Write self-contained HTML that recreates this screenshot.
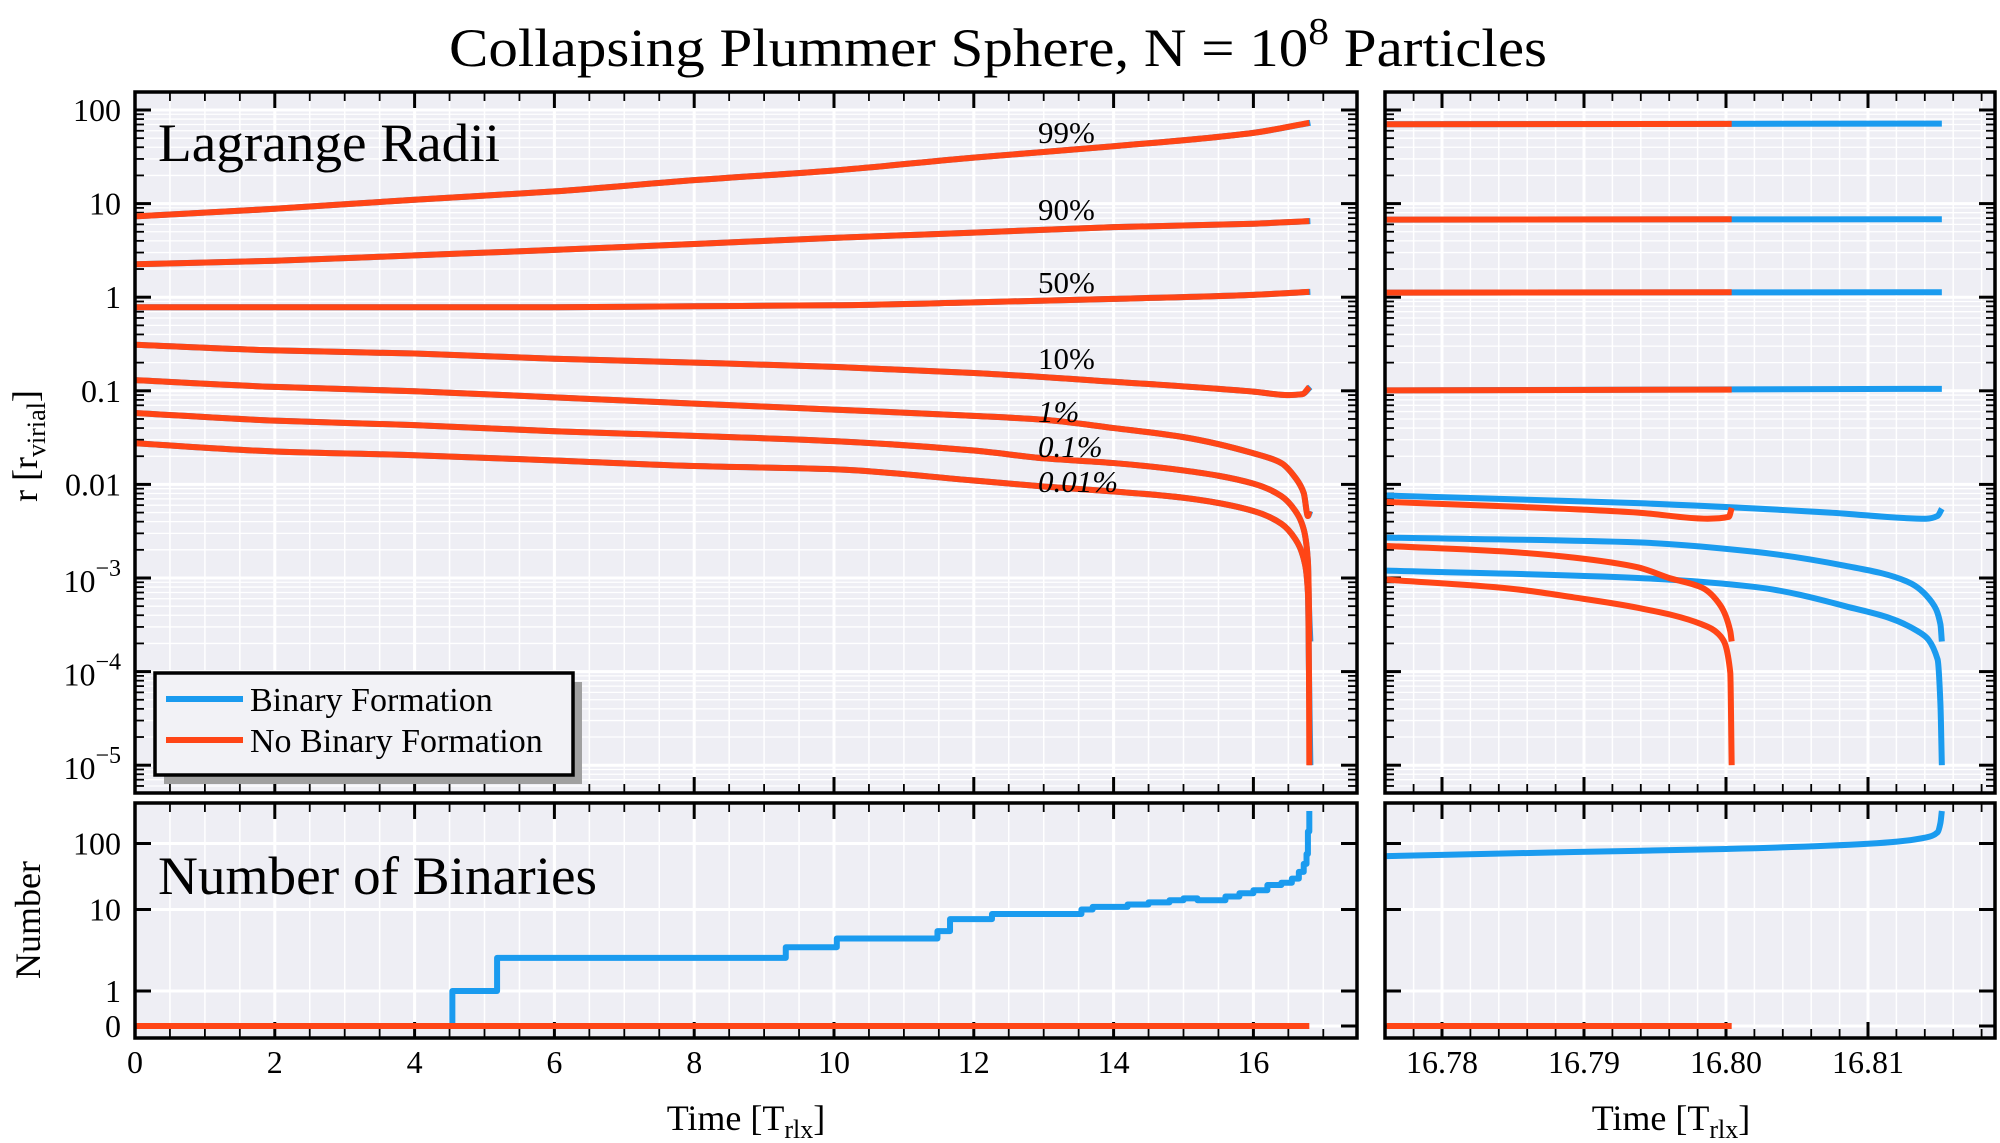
<!DOCTYPE html>
<html><head><meta charset="utf-8"><style>
html,body{margin:0;padding:0;background:#fff}
svg{display:block}
text{font-family:"Liberation Serif",serif;fill:#000}
</style></head><body>
<svg id="fig" width="2000" height="1143" viewBox="0 0 2000 1143" xmlns="http://www.w3.org/2000/svg">
<text x="998" y="66" font-size="54" text-anchor="middle" textLength="1098" lengthAdjust="spacingAndGlyphs">Collapsing Plummer Sphere, N = 10<tspan dy="-22" font-size="38">8</tspan><tspan dy="22"> Particles</tspan></text>
<g id="layer"></g>
</svg>
<script>
// ---------- DATA ----------
const p99_t=[0,2,4,6,8,10,12,14,16,16.8];
const p99_v=[7.3,8.8,11,13.5,17.8,22.6,31,41,57,73];
const p90_t=[0,2,4,6,8,10,12,14,16,16.8];
const p90_v=[2.25,2.45,2.8,3.2,3.7,4.3,4.9,5.6,6.1,6.5];
const p50_t=[0,2,4,6,8,10,12,14,16,16.8];
const p50_v=[0.78,0.78,0.78,0.78,0.8,0.82,0.88,0.96,1.06,1.14];
const p10_t=[0,2,4,6,8,10,12,14,16,16.5,16.7,16.8];
const p10_v=[0.31,0.27,0.25,0.22,0.2,0.18,0.155,0.125,0.098,0.09,0.092,0.11];
const p1_t=[0,2,4,6,8,10,12,13,14,15,16,16.4,16.6,16.72,16.78,16.8];
const p1_v=[0.13,0.11,0.099,0.085,0.073,0.063,0.054,0.049,0.040,0.032,0.0215,0.0169,0.0118,0.0081,0.0046,0.0052];
const p01_t=[0,2,4,6,8,10,12,13,14,15,16,16.4,16.6,16.72,16.78,16.795,16.8];
const p01_v=[0.058,0.048,0.043,0.037,0.033,0.029,0.023,0.019,0.0169,0.0141,0.0102,0.0075,0.0052,0.0033,0.0015,0.0005,0.00021];
const p001_t=[0,2,4,6,8,10,12,13,14,15,16,16.4,16.6,16.72,16.78,16.795,16.8];
const p001_v=[0.0275,0.0225,0.0205,0.018,0.0157,0.0145,0.011,0.0095,0.0084,0.0072,0.0052,0.0038,0.0026,0.0016,0.0007,0.0001,0.00001];
const rFlatRed_t=[16.7761,16.8004];
const rFlatBlue_t=[16.7761,16.8152];
const r99_red=[70.5,71], r99_blue=[70.5,71.5];
const r90_red=[6.75,6.8], r90_blue=[6.75,6.8];
const r50_red=[1.12,1.13], r50_blue=[1.12,1.13];
const r10_red=[0.101,0.103], r10_blue=[0.101,0.105];
const r1red_t=[16.7761,16.7848,16.7938,16.7987,16.8002,16.8004];
const r1red_v=[6.5e-3,5.8e-3,5.0e-3,4.3e-3,4.5e-3,5.6e-3];
const r1blue_t=[16.7761,16.7938,16.8073,16.8141,16.8149,16.8152];
const r1blue_v=[7.6e-3,6.3e-3,5.0e-3,4.3e-3,4.6e-3,5.5e-3];
const r01red_t=[16.7761,16.7848,16.7893,16.7938,16.796,16.7983,16.7996,16.8003,16.8004];
const r01red_v=[2.2e-3,1.9e-3,1.65e-3,1.3e-3,1.0e-3,7.9e-4,5.1e-4,2.7e-4,2.1e-4];
const r001red_t=[16.7761,16.7848,16.7893,16.7938,16.7983,16.7996,16.8003,16.8004];
const r001red_v=[9.6e-4,7.7e-4,6.2e-4,4.8e-4,3.2e-4,2.4e-4,9.8e-5,1e-5];
const r01blue_t=[16.7761,16.7938,16.8021,16.8084,16.8128,16.8145,16.8151,16.8152];
const r01blue_v=[2.7e-3,2.4e-3,1.9e-3,1.35e-3,9.1e-4,5.5e-4,3.2e-4,2.1e-4];
const r001blue_t=[16.7761,16.7938,16.8021,16.8084,16.8135,16.8149,16.8151,16.8152];
const r001blue_v=[1.2e-3,1.0e-3,8e-4,5e-4,2.7e-4,1.35e-4,4.5e-5,1e-5];
const nb_t=[0,4.54,5.18,9.31,10.04,11.48,11.66,12.26,13.54,13.7,14.2,14.5,14.8,15.0,15.2,15.6,15.8,16.0,16.2,16.4,16.55,16.65,16.72,16.76,16.78,16.8];
const nb_v=[0,1,3,4,5,6,8,9,10,11,12,13,14,15,14,16,18,20,24,26,30,38,50,70,150,300];
const nbR_t=[16.7761,16.7893,16.80,16.81,16.8141,16.8149,16.8151,16.8152];
const nbR_v=[65,75,83,99,123,146,200,300];
const nbRed_t=[0,16.8], nbRedR_t=[16.7761,16.8004], nbRed_v=[0,0];
const xTicksL=[0,2,4,6,8,10,12,14,16];
const xTicksR=["16.78","16.79","16.80","16.81"];
const yTicksTop=["100","10","1","0.1","0.01"];
const yTicksTopExp=["−3","−4","−5"];
const yTicksBot=["100","10","1","0"];

// ---------- LAYOUT ----------
const BLUE="#1a9bef", RED="#ff4516", BG="#eeeef4";
const P={L:{x0:135,x1:1357},R:{x0:1385,x1:1995},T:{y0:92,y1:793},B:{y0:803,y1:1038}};
const xL=t=>135+t*69.9;
const xR=t=>1442+(t-16.78)*14200;
const yT=v=>110+(2-Math.log10(v))*93.6;
const bu=[0,Math.log10(2),Math.log10(11),Math.log10(101)], bp=[1026,991,909.5,843.5];
const yB=n=>{const u=Math.log10(n+1);for(let i=1;i<bu.length;i++){if(u<=bu[i]||i===bu.length-1){return bp[i-1]+(u-bu[i-1])*(bp[i]-bp[i-1])/(bu[i]-bu[i-1]);}}};
const NS="http://www.w3.org/2000/svg";
const layer=document.getElementById('layer');
function mk(tag,attrs,parent){const e=document.createElementNS(NS,tag);for(const k in attrs)e.setAttribute(k,attrs[k]);(parent||layer).appendChild(e);return e;}
function clipRect(id,x0,y0,x1,y1){const d=mk('clipPath',{id:id});mk('rect',{x:x0,y:y0,width:x1-x0,height:y1-y0},d);}

const panels=[
 {id:'lagrange-left',px:P.L,py:P.T,xf:xL,xmin:0,xmax:17.48,xmaj:2,xmin_:0.5,log:true},
 {id:'lagrange-right',px:P.R,py:P.T,xf:xR,xmin:16.776,xmax:16.819,xmaj:0.01,xmin_:0.002,log:true},
 {id:'binaries-left',px:P.L,py:P.B,xf:xL,xmin:0,xmax:17.48,xmaj:2,xmin_:0.5,log:false},
 {id:'binaries-right',px:P.R,py:P.B,xf:xR,xmin:16.776,xmax:16.819,xmaj:0.01,xmin_:0.002,log:false}
];
panels.forEach(p=>{
 const g=mk('g',{});
 
 
 p.g=g;
 mk('rect',{x:p.px.x0,y:p.py.y0,width:p.px.x1-p.px.x0,height:p.py.y1-p.py.y0,fill:BG},g);
 clipRect('clip-'+p.id,p.px.x0,p.py.y0,p.px.x1,p.py.y1);
 const grid=mk('g',{'clip-path':'url(#clip-'+p.id+')'},g);
 const nmin=Math.ceil(p.xmin/p.xmin_-1e-6), nmax=Math.floor(p.xmax/p.xmin_+1e-6);
 for(let i=nmin;i<=nmax;i++){
  const t=i*p.xmin_; const x=p.xf(t);
  const major=Math.abs(t/p.xmaj-Math.round(t/p.xmaj))<1e-6;
  mk('line',{x1:x,x2:x,y1:p.py.y0,y2:p.py.y1,stroke:'#fff','stroke-width':major?3:1.5},grid);
  const L=major?16:9,w=major?3:1.8;
  mk('line',{x1:x,x2:x,y1:p.py.y1,y2:p.py.y1-L,stroke:'#000','stroke-width':w},g);
  mk('line',{x1:x,x2:x,y1:p.py.y0,y2:p.py.y0+L,stroke:'#000','stroke-width':w},g);
 }
 const ys=[];
 if(p.log){for(let e=-6;e<=2;e++){for(let m=1;m<=9;m++){const v=m*Math.pow(10,e);const y=yT(v);if(y>=p.py.y0&&y<=p.py.y1)ys.push([y,m===1]);}}}
 else{[0,1,10,100].forEach(n=>ys.push([yB(n),true]));}
 ys.forEach(([y,major])=>{
  mk('line',{x1:p.px.x0,x2:p.px.x1,y1:y,y2:y,stroke:'#fff','stroke-width':major?3:1.3},grid);
  const L=major?16:9,w=major?3:1.8;
  mk('line',{x1:p.px.x0,x2:p.px.x0+L,y1:y,y2:y,stroke:'#000','stroke-width':w},g);
  mk('line',{x1:p.px.x1,x2:p.px.x1-L,y1:y,y2:y,stroke:'#000','stroke-width':w},g);
 });
 p.series=mk('g',{'clip-path':'url(#clip-'+p.id+')'},g);
});
// monotone cubic (Fritsch-Carlson) in pixel space, x increasing
function smoothPath(X,Y){
 const n=X.length; if(n<3){return 'M'+X.map((x,i)=>x.toFixed(2)+','+Y[i].toFixed(2)).join(' L');}
 const d=[],m=[];
 for(let i=0;i<n-1;i++){const h=Math.max(X[i+1]-X[i],1e-6);d.push((Y[i+1]-Y[i])/h);}
 m[0]=d[0];m[n-1]=d[n-2];
 for(let i=1;i<n-1;i++){
  if(d[i-1]*d[i]<=0)m[i]=0;
  else{const h0=X[i]-X[i-1],h1=X[i+1]-X[i];const w1=2*h1+h0,w2=h1+2*h0;m[i]=(w1+w2)/(w1/d[i-1]+w2/d[i]);}
 }
 let s='M'+X[0].toFixed(2)+','+Y[0].toFixed(2);
 for(let i=0;i<n-1;i++){
  const h=X[i+1]-X[i];
  s+=' C'+(X[i]+h/3).toFixed(3)+','+(Y[i]+m[i]*h/3).toFixed(2)+' '+(X[i+1]-h/3).toFixed(3)+','+(Y[i+1]-m[i+1]*h/3).toFixed(2)+' '+X[i+1].toFixed(2)+','+Y[i+1].toFixed(2);
 }
 return s;
}
function drawLine(p,ts,vs,yf,color,name,step){
 let e;
 if(step){
  let pts=[];
  for(let i=0;i<ts.length;i++){const x=p.xf(ts[i]);if(i>0)pts.push(x.toFixed(2)+','+yf(vs[i-1]).toFixed(2));pts.push(x.toFixed(2)+','+yf(vs[i]).toFixed(2));}
  e=mk('polyline',{points:pts.join(' '),fill:'none',stroke:color,'stroke-width':6,'stroke-linejoin':'round'},p.series);
 }else{
  const X=ts.map(t=>p.xf(t)),Y=vs.map(v=>yf(v));
  e=mk('path',{d:smoothPath(X,Y),fill:'none',stroke:color,'stroke-width':6,'stroke-linejoin':'round'},p.series);
 }
 
 
}
const [PL,PR,BL,BR]=panels;
const leftSeries=[['99',p99_t,p99_v],['90',p90_t,p90_v],['50',p50_t,p50_v],['10',p10_t,p10_v],['1',p1_t,p1_v],['0.1',p01_t,p01_v],['0.01',p001_t,p001_v]];
leftSeries.forEach(([n,t,v])=>{const tb=t.map((x,i)=>i===t.length-1?x+0.015:x);drawLine(PL,tb,v,yT,BLUE,'binary-radius-'+n+'pct',false);});
leftSeries.forEach(([n,t,v])=>drawLine(PL,t,v,yT,RED,'nobinary-radius-'+n+'pct',false));
[['99',r99_blue],['90',r90_blue],['50',r50_blue],['10',r10_blue]].forEach(([n,v])=>drawLine(PR,rFlatBlue_t,v,yT,BLUE,'zoom-binary-radius-'+n+'pct',false));
drawLine(PR,r1blue_t,r1blue_v,yT,BLUE,'zoom-binary-radius-1pct',false);
drawLine(PR,r01blue_t,r01blue_v,yT,BLUE,'zoom-binary-radius-0.1pct',false);
drawLine(PR,r001blue_t,r001blue_v,yT,BLUE,'zoom-binary-radius-0.01pct',false);
[['99',r99_red],['90',r90_red],['50',r50_red],['10',r10_red]].forEach(([n,v])=>drawLine(PR,rFlatRed_t,v,yT,RED,'zoom-nobinary-radius-'+n+'pct',false));
drawLine(PR,r1red_t,r1red_v,yT,RED,'zoom-nobinary-radius-1pct',false);
drawLine(PR,r01red_t,r01red_v,yT,RED,'zoom-nobinary-radius-0.1pct',false);
drawLine(PR,r001red_t,r001red_v,yT,RED,'zoom-nobinary-radius-0.01pct',false);
drawLine(BL,nb_t,nb_v,yB,BLUE,'binary-count-line',true);
drawLine(BL,nbRed_t,nbRed_v,yB,RED,'nobinary-count-line',false);
drawLine(BR,nbR_t,nbR_v,yB,BLUE,'zoom-binary-count-line',false);
drawLine(BR,nbRedR_t,nbRed_v,yB,RED,'zoom-nobinary-count-line',false);
panels.forEach(p=>{mk('rect',{x:p.px.x0,y:p.py.y0,width:p.px.x1-p.px.x0,height:p.py.y1-p.py.y0,fill:'none',stroke:'#000','stroke-width':3.5},p.g);});

function txt(s,attrs,name){const e=mk('text',attrs);e.textContent=s;return e;}
xTicksL.forEach(t=>txt(String(t),{x:xL(t),y:1073,'font-size':32,'text-anchor':'middle'},'x-tick-label'));
xTicksR.forEach(s=>txt(s,{x:xR(parseFloat(s)),y:1073,'font-size':32,'text-anchor':'middle'},'x-tick-label-zoom'));
yTicksTop.forEach(s=>txt(s,{x:121,y:yT(parseFloat(s))+11,'font-size':32,'text-anchor':'end'},'y-tick-label'));
yTicksTopExp.forEach(s=>{const e=parseInt(s.replace('−','-'));const y=yT(Math.pow(10,e));
 const t=txt('',{x:121,y:y+14,'font-size':32,'text-anchor':'end'},'y-tick-label');
 const a=document.createElementNS(NS,'tspan');a.textContent='10';t.appendChild(a);
 const b=document.createElementNS(NS,'tspan');b.setAttribute('dy','-16');b.setAttribute('font-size','24');b.textContent=s;t.appendChild(b);});
yTicksBot.forEach(s=>txt(s,{x:121,y:yB(parseFloat(s))+11,'font-size':32,'text-anchor':'end'},'y-tick-label-binaries'));
[746,1671].forEach((cx,i)=>{const t=txt('',{x:cx,y:1130,'font-size':36,'text-anchor':'middle'},i?'x-axis-title-zoom':'x-axis-title');
 t.innerHTML='Time [T<tspan dy="8" font-size="26">rlx</tspan><tspan dy="-8">]</tspan>';});
{const t=txt('',{x:0,y:0,'font-size':36,'text-anchor':'middle',transform:'translate(37,446) rotate(-90)'},'y-axis-title-radius');
 t.innerHTML='r [r<tspan dy="8" font-size="26">virial</tspan><tspan dy="-8">]</tspan>';}
txt('Number',{x:0,y:0,'font-size':36,'text-anchor':'middle',transform:'translate(40,920) rotate(-90)'},'y-axis-title-number');
txt('Lagrange Radii',{x:158,y:161,'font-size':54,textLength:342,lengthAdjust:'spacingAndGlyphs'},'panel-label-lagrange');
txt('Number of Binaries',{x:158,y:894,'font-size':54,textLength:439,lengthAdjust:'spacingAndGlyphs'},'panel-label-binaries');
[['99%',143,''],['90%',220,''],['50%',293,''],['10%',369,''],['1%',422,'italic'],['0.1%',457,'italic'],['0.01%',492,'italic']].forEach(([s,y,st])=>{
 const e=txt(s,{x:1038,y:y,'font-size':31},'annotation-'+s.replace('%','pct'));if(st)e.setAttribute('font-style',st);});
const lg=mk('g',{});


mk('rect',{x:164,y:682,width:418,height:102,fill:'#a0a0a0'},lg);
mk('rect',{x:155,y:673,width:418,height:102,fill:'#f2f2f6',stroke:'#000','stroke-width':3.5},lg);
[[BLUE,'Binary Formation',699,711],[RED,'No Binary Formation',740,752]].forEach(([c,s,ly,ty])=>{
 const ln=mk('line',{x1:166,x2:243,y1:ly,y2:ly,stroke:c,'stroke-width':6},lg);
 
 
 const t=mk('text',{x:250,y:ty,'font-size':34},lg);t.textContent=s;
 
 
});
</script>
</body></html>
